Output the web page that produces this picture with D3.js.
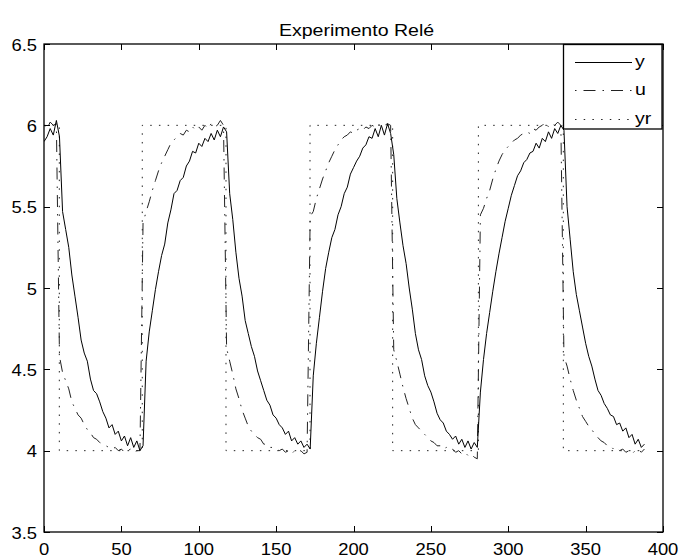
<!DOCTYPE html>
<html>
<head>
<meta charset="utf-8">
<script src="https://cdn.jsdelivr.net/npm/d3@7"></script>
<style>
  html, body { margin: 0; padding: 0; background: #fff; }
  svg { display: block; }
  text { font-family: "Liberation Sans", Arial, Helvetica, sans-serif; fill: #000; }
</style>
</head>
<body>
<svg id="chart" width="680" height="558"></svg>
<script>
// ---------------- DATA ----------------
const chartTitle = "Experimento Relé";
const sampleStep = 2; // time between samples of y and u
// y: process output (solid), samples at t = 0, 2, 4, ..., 388
const yValues = [
  5.90, 5.93, 5.98, 5.94, 6.03, 5.93, 5.47, 5.36, 5.25, 5.08,
  4.95, 4.82, 4.68, 4.60, 4.55, 4.44, 4.37, 4.35, 4.30, 4.24,
  4.20, 4.14, 4.16, 4.10, 4.12, 4.06, 4.09, 4.03, 4.08, 4.02,
  4.06, 4.00, 4.03, 4.55, 4.73, 4.86, 4.99, 5.10, 5.20, 5.27,
  5.40, 5.48, 5.58, 5.60, 5.66, 5.68, 5.75, 5.78, 5.84, 5.83,
  5.89, 5.87, 5.92, 5.90, 5.95, 5.91, 5.97, 5.93, 5.99, 5.96,
  5.58, 5.42, 5.22, 5.06, 4.95, 4.80, 4.72, 4.64, 4.58, 4.49,
  4.43, 4.37, 4.31, 4.28, 4.22, 4.20, 4.16, 4.14, 4.10, 4.12,
  4.06, 4.08, 4.04, 4.06, 4.02, 4.04, 4.01, 4.46, 4.66, 4.82,
  4.98, 5.12, 5.22, 5.31, 5.36, 5.45, 5.50, 5.58, 5.62, 5.70,
  5.74, 5.78, 5.81, 5.86, 5.88, 5.93, 5.92, 5.98, 5.93, 6.00,
  5.94, 6.01, 5.95, 5.82, 5.55, 5.40, 5.26, 5.15, 5.00, 4.87,
  4.72, 4.62, 4.56, 4.46, 4.40, 4.36, 4.30, 4.23, 4.19, 4.17,
  4.12, 4.10, 4.07, 4.09, 4.04, 4.07, 4.02, 4.06, 4.01, 4.05,
  4.02, 4.36, 4.56, 4.72, 4.85, 4.98, 5.10, 5.21, 5.31, 5.41,
  5.49, 5.57, 5.63, 5.69, 5.72, 5.77, 5.79, 5.83, 5.84, 5.89,
  5.86, 5.92, 5.90, 5.96, 5.92, 5.98, 5.95, 6.00, 5.97, 5.50,
  5.30, 5.10, 4.96, 4.86, 4.76, 4.66, 4.58, 4.52, 4.44, 4.37,
  4.34, 4.29, 4.26, 4.22, 4.21, 4.16, 4.17, 4.12, 4.14, 4.08,
  4.10, 4.04, 4.07, 4.02, 4.04
];
// u: controller output (dash-dot), samples at t = 0, 2, 4, ..., 388
const uValues = [
  6.00, 5.98, 6.02, 6.00, 6.01, 4.58, 4.48, 4.43, 4.38, 4.30,
  4.26, 4.22, 4.20, 4.16, 4.13, 4.11, 4.08, 4.07, 4.05, 4.04,
  4.03, 4.02, 4.01, 4.02, 4.00, 4.01, 3.99, 4.00, 4.01, 3.99,
  4.00, 4.00, 5.40, 5.47, 5.53, 5.60, 5.66, 5.72, 5.77, 5.81,
  5.85, 5.89, 5.91, 5.93, 5.95, 5.94, 5.97, 5.96, 5.99, 5.97,
  5.99, 5.97, 6.00, 5.98, 6.01, 5.99, 6.00, 6.03, 6.00, 4.63,
  4.55, 4.47, 4.38, 4.32, 4.25, 4.20, 4.15, 4.12, 4.10, 4.08,
  4.07, 4.04, 4.04, 4.02, 4.02, 4.01, 4.00, 4.01, 3.99, 4.00,
  3.98, 4.00, 3.99, 4.00, 3.98, 3.99, 5.44, 5.47, 5.55, 5.61,
  5.67, 5.72, 5.77, 5.81, 5.85, 5.88, 5.91, 5.93, 5.94, 5.96,
  5.95, 5.97, 5.98, 5.97, 5.99, 5.98, 6.00, 5.99, 6.01, 5.99,
  6.00, 6.01, 6.00, 4.62, 4.55, 4.47, 4.39, 4.32, 4.26, 4.20,
  4.16, 4.14, 4.12, 4.10, 4.08, 4.06, 4.05, 4.03, 4.03, 4.01,
  4.02, 4.00, 4.01, 3.99, 4.00, 3.98, 3.99, 3.97, 3.98, 3.96,
  3.95, 5.45, 5.49, 5.55, 5.60, 5.67, 5.73, 5.78, 5.82, 5.85,
  5.87, 5.89, 5.91, 5.92, 5.94, 5.95, 5.96, 5.95, 5.98, 5.97,
  5.99, 6.00, 6.02, 5.99, 6.01, 6.00, 6.02, 6.00, 4.58, 4.52,
  4.44, 4.37, 4.31, 4.26, 4.21, 4.18, 4.15, 4.13, 4.10, 4.08,
  4.06, 4.05, 4.03, 4.03, 4.01, 4.02, 4.00, 4.01, 3.99, 4.00,
  3.98, 4.00, 4.01, 3.99, 4.01
];
// yr: relay reference (dotted), step changes
const yrTimes  = [0, 9.9, 63.5, 117.6, 171.9, 225.3, 280.7, 335.6, 388];
const yrValues = [6, 4, 6, 4, 6, 4, 6, 4, 4];
const xTicks = [0, 50, 100, 150, 200, 250, 300, 350, 400];
const yTicks = [3.5, 4, 4.5, 5, 5.5, 6, 6.5];
const legendLabels = ["y", "u", "yr"];

// ---------------- LAYOUT ----------------
const PL = 44, PR = 663, PT = 44, PB = 532;
const svg = d3.select("#chart");
const x = d3.scaleLinear().domain([0, 400]).range([PL, PR]);
const y = d3.scaleLinear().domain([3.5, 6.5]).range([PB, PT]);
const SX = 1.15; // horizontal stretch of text to match reference glyphs
const DASHDOT = "1.5,7,12,7";
const DOTTED = "1.5,7.2";

function label(g, px, py, str, anchor, size) {
  return g.append("text")
    .attr("transform", `translate(${px},${py}) scale(${SX},1)`)
    .attr("text-anchor", anchor)
    .style("font-size", size + "px")
    .text(str);
}

svg.append("defs").append("clipPath").attr("id", "clip")
  .append("rect").attr("x", PL).attr("y", PT)
  .attr("width", PR - PL).attr("height", PB - PT);

const plot = svg.append("g").attr("clip-path", "url(#clip)");

const ySeries = yValues.map((v, i) => [i * sampleStep, v]);
const uSeries = uValues.map((v, i) => [i * sampleStep, v]);
const yrSeries = yrTimes.map((t, i) => [t, yrValues[i]]);

const line = d3.line().x(d => x(d[0])).y(d => y(d[1]));
const stepLine = d3.line().x(d => x(d[0])).y(d => y(d[1])).curve(d3.curveStepAfter);

plot.append("path").datum(yrSeries).attr("d", stepLine)
  .attr("fill", "none").attr("stroke", "#222").attr("stroke-width", 1)
  .attr("stroke-dasharray", DOTTED);
plot.append("path").datum(uSeries).attr("d", line)
  .attr("fill", "none").attr("stroke", "#222").attr("stroke-width", 1)
  .attr("stroke-dasharray", DASHDOT);
plot.append("path").datum(ySeries).attr("d", line)
  .attr("fill", "none").attr("stroke", "#000").attr("stroke-width", 1);

// ---------------- AXES ----------------
const axes = svg.append("g");
const tl = 6;
xTicks.forEach(t => {
  const px = Math.round(x(t)) + 0.5;
  axes.append("line").attr("x1", px).attr("x2", px).attr("y1", PB).attr("y2", PB - tl)
    .attr("stroke", "#000").attr("stroke-width", 1);
  axes.append("line").attr("x1", px).attr("x2", px).attr("y1", PT).attr("y2", PT + tl)
    .attr("stroke", "#000").attr("stroke-width", 1);
  label(axes, x(t), PB + 23, String(t), "middle", 16);
});
yTicks.forEach(t => {
  const py = Math.round(y(t)) + 0.5;
  axes.append("line").attr("x1", PL).attr("x2", PL + tl).attr("y1", py).attr("y2", py)
    .attr("stroke", "#000").attr("stroke-width", 1);
  axes.append("line").attr("x1", PR).attr("x2", PR - tl).attr("y1", py).attr("y2", py)
    .attr("stroke", "#000").attr("stroke-width", 1);
  label(axes, PL - 7, y(t) + 6.5, String(t), "end", 16);
});
axes.append("rect").attr("x", PL).attr("y", PT)
  .attr("width", PR - PL).attr("height", PB - PT)
  .attr("fill", "none").attr("stroke", "#000").attr("stroke-width", 1.3);

// title
label(svg, (PL + PR) / 2 + 3, 36, chartTitle, "middle", 17);

// ---------------- LEGEND ----------------
const lg = svg.append("g");
lg.append("rect").attr("x", 563.5).attr("y", 44.5).attr("width", 98.5).attr("height", 84.5)
  .attr("fill", "#fff").attr("stroke", "#000").attr("stroke-width", 1.3);
const rowsY = [62, 90, 119];
const dashes = [null, DASHDOT, DOTTED];
legendLabels.forEach((name, i) => {
  const l = lg.append("line").attr("x1", 575).attr("x2", 632)
    .attr("y1", rowsY[i] + 0.5).attr("y2", rowsY[i] + 0.5)
    .attr("stroke", i === 0 ? "#000" : "#222").attr("stroke-width", 1);
  if (dashes[i]) l.attr("stroke-dasharray", dashes[i]);
  label(lg, 635, rowsY[i] + 5, name, "start", 17);
});
</script>
</body>
</html>
